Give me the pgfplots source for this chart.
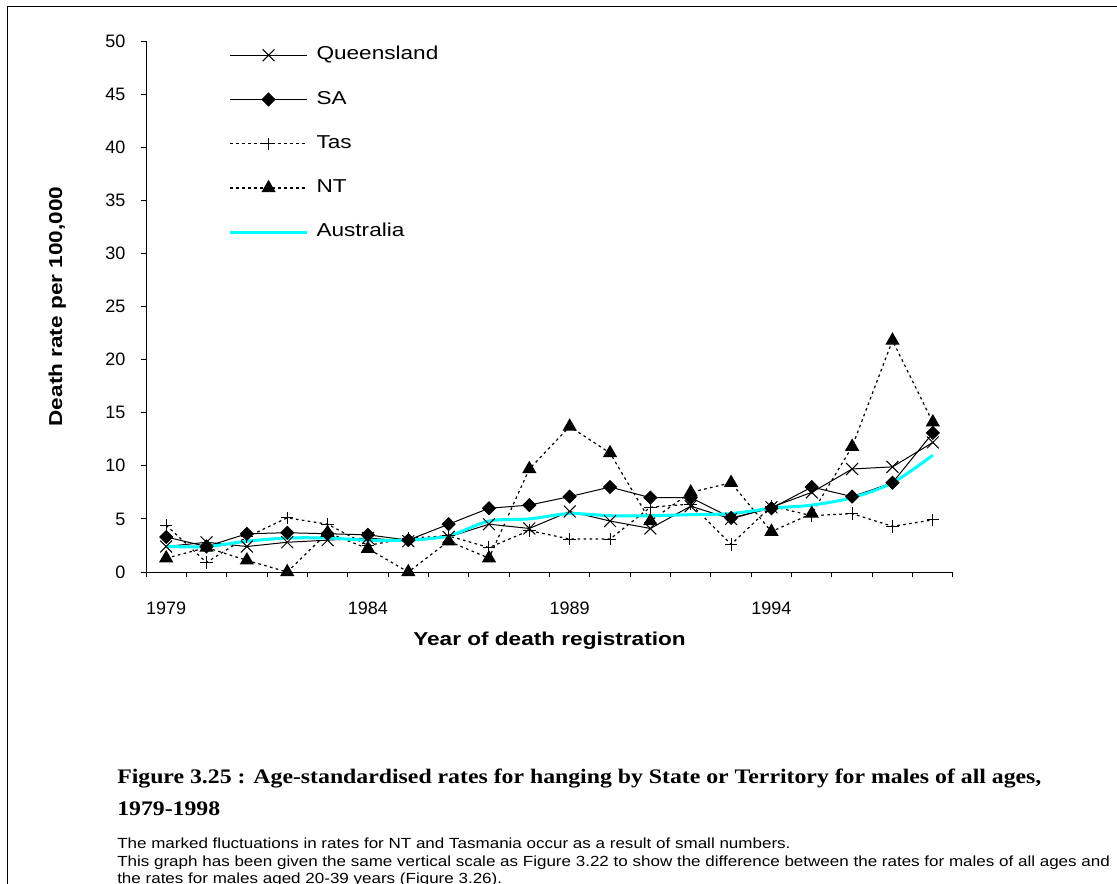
\documentclass[border=0pt]{standalone}
\usepackage{pgfplots}
\pgfplotsset{compat=1.18}
\usepackage{fontspec}
\setmainfont{Liberation Sans}
\newfontfamily\titlefont{Liberation Serif}[FakeStretch=1.15]
\newfontfamily\legfont{Liberation Sans}[FakeStretch=1.21]
\newfontfamily\bodyfont{Liberation Sans}[FakeStretch=1.16]
\definecolor{aus}{RGB}{0,255,255}

\pgfplotstableread{
year qld  sa   tas  nt   aus
1979 2.4  3.3  4.4  1.3  2.4
1980 2.8  2.4  0.9  2.3  2.4
1981 2.4  3.6  3.3  1.1  2.9
1982 2.8  3.7  5.1  0.0  3.2
1983 3.0  3.6  4.5  3.7  3.2
1984 3.2  3.5  2.5  2.2  3.0
1985 2.9  3.0  3.2  0.0  3.0
1986 3.3  4.5  3.4  2.9  3.4
1987 4.5  6.0  2.3  1.3  4.8
1988 4.1  6.3  3.9  9.7  5.0
1989 5.7  7.1  3.1  13.7 5.5
1990 4.8  8.0  3.1  11.2 5.3
1991 4.1  7.0  6.1  4.8  5.3
1992 6.2  7.0  6.4  7.5  5.4
1993 5.0  5.1  2.6  8.4  5.5
1994 6.1  6.0  6.2  3.8  6.0
1995 7.5  8.0  5.3  5.5  6.3
1996 9.7  7.1  5.5  11.8 7.0
1997 9.9  8.4  4.3  21.8 8.4
1998 12.2 13.1 4.9  14.1 11.0
}\datatable

\begin{document}
\begin{tikzpicture}
\useasboundingbox (0,0) rectangle (837.75pt,-663pt);
\begin{axis}[
  at={(109.5pt,-429pt)}, anchor=south west,
  scale only axis, width=605.25pt, height=398.25pt,
  xmin=1978.5, xmax=1998.5, ymin=0, ymax=50,
  axis x line=bottom, axis y line=left,
  axis line style={-, black, line width=0.75pt},
  xtick={1979,1984,1989,1994},
  major x tick style={draw=none},
  minor xtick={1978.5,1979.5,...,1998.5},
  ytick={0,5,...,50},
  tick align=outside,
  major tick length=4pt, minor tick length=4pt,
  tick style={black, line width=0.75pt},
  /pgf/number format/1000 sep={},
  /pgf/number format/assume math mode=true,
  tick label style={font=\fontsize{13.5}{16}\selectfont},
  xticklabel style={yshift=-15pt},
  yticklabel style={xshift=-8pt},
  xlabel={\legfont\bfseries Year of death registration},
  ylabel={\legfont\bfseries Death rate per 100,000},
  label style={font=\fontsize{14}{16}\selectfont},
  xlabel style={at={(axis description cs:0.5,-0.129)}, anchor=center},
  ylabel style={at={(axis description cs:-0.110,0.5)}, anchor=center},
  legend style={at={(axis description cs:0.097,0.995)}, anchor=north west,
    draw=none, fill=none, font=\legfont\fontsize{14}{16}\selectfont,
    row sep=20.2pt, nodes={inner sep=0pt, text height=10pt, text depth=3pt},
    /tikz/every odd column/.append style={column sep=6pt}},
  legend cell align=left,
  legend image code/.code={\draw[mark repeat=2,mark phase=2,#1] plot coordinates {(0pt,0pt) (28.9pt,0pt) (57.75pt,0pt)};},
  clip=false,
]
\addplot[black, line width=0.75pt, mark=x, mark size=6.3pt, mark options={solid, line width=0.75pt}] table[x=year,y=qld] {\datatable};
\addlegendentry{Queensland}
\addplot[black, line width=0.75pt, mark=square*, mark size=3.4pt, mark options={solid, rotate=45}] table[x=year,y=sa] {\datatable};
\addlegendentry{SA}
\addplot[black, line width=0.9pt, dash pattern=on 2pt off 2.5pt, mark=+, mark size=4.7pt, mark options={solid, line width=0.75pt}] table[x=year,y=tas] {\datatable};
\addlegendentry{Tas}
\addplot[black, line width=0.9pt, dash pattern=on 2pt off 2.5pt, mark=triangle*, mark size=5.3pt, mark options={solid}] table[x=year,y=nt] {\datatable};
\addlegendentry{NT}
\addplot[aus, line width=2.25pt, smooth, no marks] table[x=year,y=aus] {\datatable};
\addlegendentry{Australia}
\end{axis}
\begin{scope}[x=0.75pt,y=-0.75pt]
\draw[line width=0.75pt] (7,884) -- (7,7) -- (1117,7);
\node[anchor=base west, inner sep=0pt, font=\titlefont\bfseries\fontsize{15.5}{18}\selectfont] at (117,783) {Figure 3.25 : Age-standardised rates for hanging by State or Territory for males of all ages,};
\node[anchor=base west, inner sep=0pt, font=\titlefont\bfseries\fontsize{15.5}{18}\selectfont] at (117,815) {1979-1998};
\node[anchor=base west, inner sep=0pt, font=\bodyfont\fontsize{11}{12}\selectfont] at (117,848) {The marked fluctuations in rates for NT and Tasmania occur as a result of small numbers.};
\node[anchor=base west, inner sep=0pt, font=\bodyfont\fontsize{11}{12}\selectfont] at (117,866) {This graph has been given the same vertical scale as Figure 3.22 to show the difference between the rates for males of all ages and};
\node[anchor=base west, inner sep=0pt, font=\bodyfont\fontsize{11}{12}\selectfont] at (117,883) {the rates for males aged 20-39 years (Figure 3.26).};
\end{scope}
\end{tikzpicture}
\end{document}
